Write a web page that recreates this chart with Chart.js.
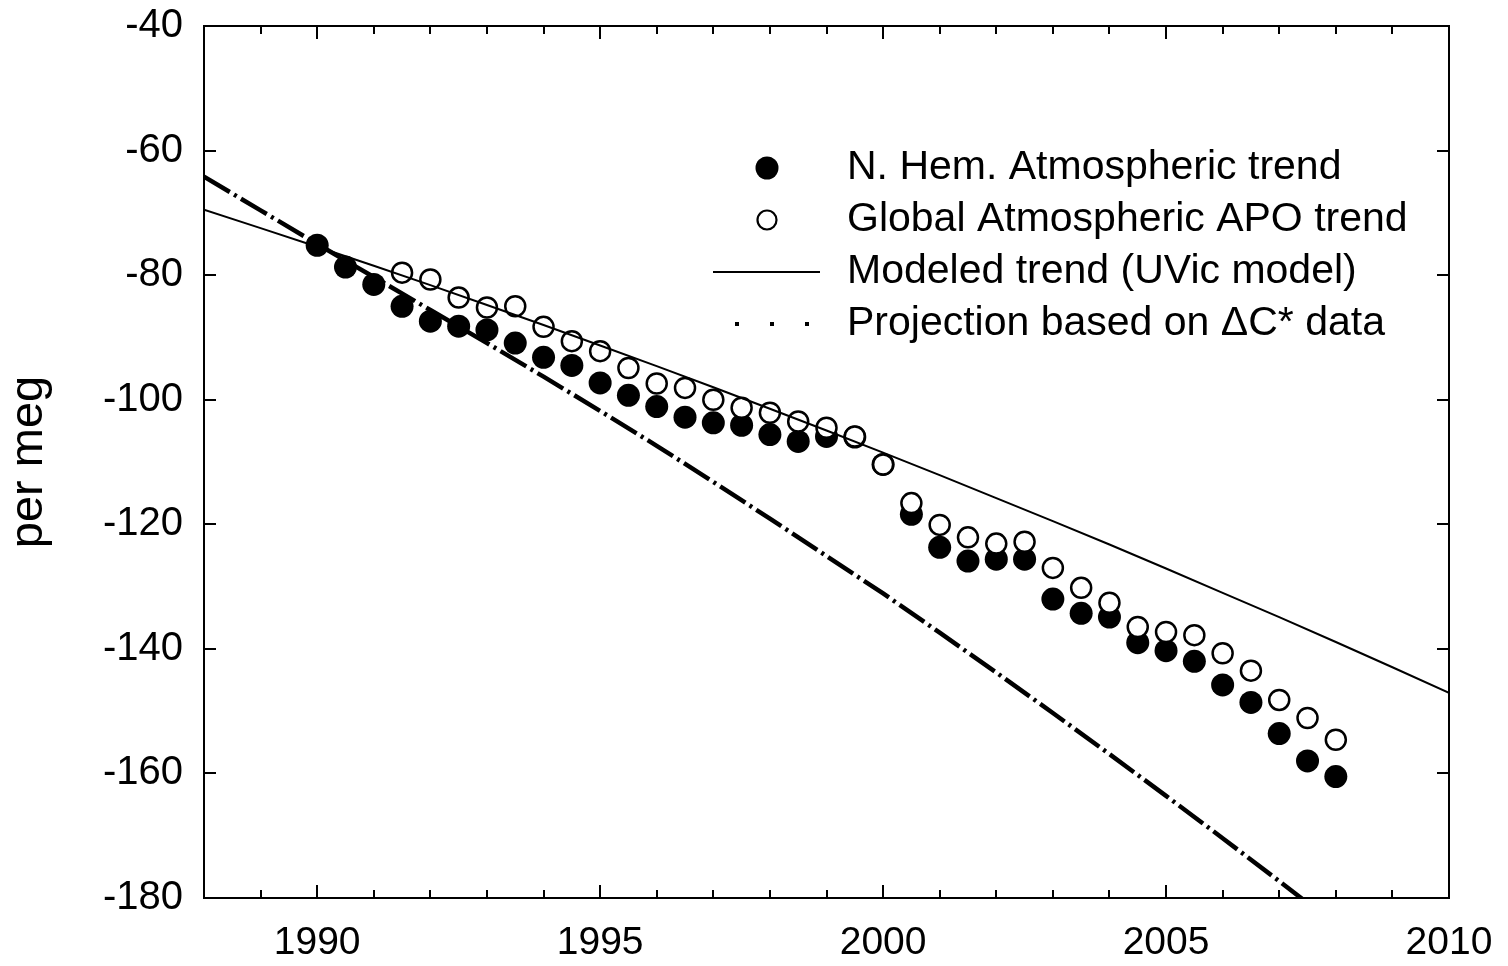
<!DOCTYPE html>
<html>
<head>
<meta charset="utf-8">
<script src="https://cdn.jsdelivr.net/npm/chart.js@4.4.1/dist/chart.umd.min.js"></script>
<style>
  html, body { margin: 0; padding: 0; background: #fff; }
</style>
</head>
<body>
<canvas id="apo-chart" width="1508" height="966"></canvas>
<script>
'use strict';

const FONT = "'Liberation Sans', Arial, Helvetica, sans-serif";

// N. Hem. atmospheric trend (filled circles), half-year steps
const nhemYears = [
  1990, 1990.5, 1991, 1991.5, 1992, 1992.5, 1993, 1993.5, 1994, 1994.5,
  1995, 1995.5, 1996, 1996.5, 1997, 1997.5, 1998, 1998.5, 1999, 1999.5,
  2000, 2000.5, 2001, 2001.5, 2002, 2002.5, 2003, 2003.5, 2004, 2004.5,
  2005, 2005.5, 2006, 2006.5, 2007, 2007.5, 2008
];
const nhemValues = [
  -75.2, -78.7, -81.5, -85.0, -87.4, -88.2, -88.8, -90.9, -93.2, -94.5,
  -97.3, -99.3, -101.1, -102.8, -103.7, -104.1, -105.6, -106.7, -105.9, -106.0,
  -110.4, -118.4, -123.7, -125.9, -125.6, -125.6, -132.0, -134.3, -134.9, -139.0,
  -140.3, -142.0, -145.8, -148.6, -153.6, -158.0, -160.5
];

// Global atmospheric APO trend (open circles)
const globalYears = [
  1991.5, 1992, 1992.5, 1993, 1993.5, 1994, 1994.5, 1995, 1995.5, 1996,
  1996.5, 1997, 1997.5, 1998, 1998.5, 1999, 1999.5, 2000, 2000.5, 2001,
  2001.5, 2002, 2002.5, 2003, 2003.5, 2004, 2004.5, 2005, 2005.5, 2006,
  2006.5, 2007, 2007.5, 2008
];
const globalValues = [
  -79.6, -80.7, -83.6, -85.2, -85.0, -88.3, -90.6, -92.2, -94.9, -97.4,
  -98.1, -100.0, -101.3, -102.1, -103.5, -104.5, -105.9, -110.4, -116.6, -120.1,
  -122.1, -123.1, -122.8, -127.0, -130.2, -132.6, -136.5, -137.3, -137.8, -140.7,
  -143.5, -148.2, -151.1, -154.6
];

// UVic model trend, yearly
const modelYears = [
  1988, 1989, 1990, 1991, 1992, 1993, 1994, 1995, 1996, 1997, 1998, 1999,
  2000, 2001, 2002, 2003, 2004, 2005, 2006, 2007, 2008, 2009, 2010
];
const modelValues = [
  -69.5, -72.45, -75.45, -78.5, -81.6, -84.8, -88.0, -91.3, -94.6, -98.0, -101.45, -104.95,
  -108.5, -112.1, -115.8, -119.5, -123.25, -127.1, -131.0, -134.9, -138.9, -142.95, -147.05
];

// projection from the ΔC* data, yearly
const projYears = [
  1988, 1989, 1990, 1991, 1992, 1993, 1994, 1995, 1996, 1997, 1998,
  1999, 2000, 2001, 2002, 2003, 2004, 2005, 2006, 2007, 2008
];
const projValues = [
  -64.2, -69.6, -75.0, -80.3, -85.6, -90.9, -96.3, -101.8, -107.4, -113.2, -119.1,
  -125.1, -131.1, -137.4, -143.8, -150.3, -156.9, -163.6, -170.4, -177.3, -184.3
];

const xMin = 1988;
const xMax = 2010;
const yMin = -180;
const yMax = -40;

const legendLabels = [
  'N. Hem. Atmospheric trend',
  'Global Atmospheric APO trend',
  'Modeled trend (UVic model)',
  'Projection based on \u0394C* data'
];

const toPoints = (xs, ys) => xs.map((x, i) => ({ x: x, y: ys[i] }));

// frame around the plot plus inward ticks on all four sides
const frameTicks = {
  id: 'frameTicks',
  afterDraw(chart) {
    const { ctx, chartArea: a, scales: { x, y } } = chart;
    ctx.save();
    ctx.strokeStyle = '#000';
    ctx.lineWidth = 2;
    ctx.beginPath();
    x.ticks.forEach(t => {
      const px = Math.round(x.getPixelForValue(t.value));
      const len = t.value % 5 === 0 ? 13 : 8;
      ctx.moveTo(px, a.bottom);
      ctx.lineTo(px, a.bottom - len);
      ctx.moveTo(px, a.top);
      ctx.lineTo(px, a.top + len);
    });
    y.ticks.forEach(t => {
      const py = Math.round(y.getPixelForValue(t.value));
      ctx.moveTo(a.left, py);
      ctx.lineTo(a.left + 12, py);
      ctx.moveTo(a.right, py);
      ctx.lineTo(a.right - 12, py);
    });
    ctx.stroke();
    ctx.strokeRect(a.left, a.top, a.right - a.left, a.bottom - a.top);
    ctx.restore();
  }
};

// legend box inside the plot, upper right
const apoLegend = {
  id: 'apoLegend',
  afterDraw(chart) {
    const { ctx } = chart;
    const ds = chart.data.datasets;
    const markX = 767;
    const textX = 847;
    const rows = [168, 220, 272, 324];
    ctx.save();

    // filled circle
    ctx.fillStyle = ds[0].backgroundColor;
    ctx.beginPath();
    ctx.arc(markX, rows[0], 11.5, 0, Math.PI * 2);
    ctx.fill();

    // open circle
    ctx.fillStyle = ds[1].backgroundColor;
    ctx.strokeStyle = ds[1].borderColor;
    ctx.lineWidth = 2.2;
    ctx.beginPath();
    ctx.arc(markX, rows[1], 9.5, 0, Math.PI * 2);
    ctx.fill();
    ctx.stroke();

    // solid model line
    ctx.strokeStyle = ds[2].borderColor;
    ctx.lineWidth = ds[2].borderWidth;
    ctx.beginPath();
    ctx.moveTo(713, rows[2]);
    ctx.lineTo(820, rows[2]);
    ctx.stroke();

    // dotted sample for the projection
    ctx.fillStyle = ds[3].borderColor;
    [737, 772, 807].forEach(dx => ctx.fillRect(dx - 2, rows[3] - 2, 4, 4));

    ctx.fillStyle = '#000';
    ctx.font = '41px ' + FONT;
    ctx.textAlign = 'left';
    ctx.textBaseline = 'middle';
    legendLabels.forEach((txt, i) => ctx.fillText(txt, textX, rows[i]));
    ctx.restore();
  }
};

const ctx = document.getElementById('apo-chart').getContext('2d');

new Chart(ctx, {
  type: 'scatter',
  data: {
    datasets: [
      {
        label: legendLabels[0],
        data: toPoints(nhemYears, nhemValues),
        backgroundColor: '#000',
        borderWidth: 0,
        pointRadius: 11.5,
        order: 4
      },
      {
        label: legendLabels[1],
        data: toPoints(globalYears, globalValues),
        backgroundColor: '#fff',
        borderColor: '#000',
        borderWidth: 2.5,
        pointRadius: 10,
        order: 3
      },
      {
        label: legendLabels[2],
        data: toPoints(modelYears, modelValues),
        showLine: true,
        borderColor: '#000',
        borderWidth: 2,
        pointRadius: 0,
        tension: 0,
        order: 2
      },
      {
        label: legendLabels[3],
        data: toPoints(projYears, projValues),
        showLine: true,
        borderColor: '#000',
        borderWidth: 4.5,
        borderDash: [30, 5, 3, 5],
        pointRadius: 0,
        tension: 0,
        order: 1
      }
    ]
  },
  options: {
    responsive: false,
    animation: false,
    layout: {
      padding: { top: 26, right: 59, left: 0, bottom: 0 }
    },
    scales: {
      x: {
        type: 'linear',
        min: xMin,
        max: xMax,
        grid: { display: false, drawTicks: false },
        border: { display: false },
        ticks: {
          stepSize: 1,
          autoSkip: false,
          maxRotation: 0,
          padding: 22,
          color: '#000',
          font: { family: FONT, size: 39 },
          callback: v => (v % 5 === 0 ? String(v) : '')
        },
        afterFit: scale => {
          scale.height = 68;
          scale.paddingLeft = 0;
          scale.paddingRight = 0;
        }
      },
      y: {
        type: 'linear',
        min: yMin,
        max: yMax,
        grid: { display: false, drawTicks: false },
        border: { display: false },
        ticks: {
          stepSize: 20,
          padding: 21,
          color: '#000',
          font: { family: FONT, size: 40 }
        },
        title: {
          display: true,
          text: 'per meg',
          color: '#000',
          font: { family: FONT, size: 47 },
          padding: { top: 1, bottom: 0 }
        },
        afterFit: scale => {
          scale.width = 204;
          scale.paddingTop = 0;
          scale.paddingBottom = 0;
        }
      }
    },
    plugins: {
      legend: { display: false },
      tooltip: { enabled: false }
    }
  },
  plugins: [frameTicks, apoLegend]
});
</script>
</body>
</html>
